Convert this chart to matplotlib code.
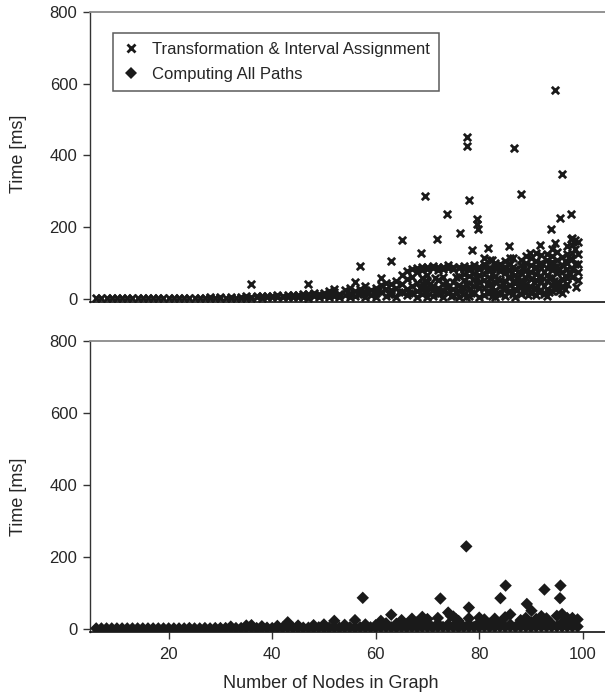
import matplotlib
matplotlib.use("Agg")
import matplotlib.pyplot as plt
from matplotlib.lines import Line2D

plt.rcParams["font.family"] = ["Liberation Sans", "DejaVu Sans"]

TEXT = "#262626"

# --- Transformation & Interval Assignment (top panel) ---
trans_low_x = [6, 7, 8, 9, 10, 11, 12, 13, 14, 15, 16, 17, 18, 19, 20, 21, 22, 23, 24, 25,
               26, 27, 28, 29, 30, 31, 32, 33, 34, 35, 36, 37, 38, 39, 40, 41, 42, 43, 44]
trans_low_y = [1, 1, 1, 1, 1, 1, 1, 1, 1, 1, 1, 1, 1, 1, 1, 2, 1, 2, 1, 2,
               2, 2, 2, 2, 2, 3, 2, 3, 3, 3, 3, 4, 3, 4, 4, 5, 4, 5, 5]
trans_low2_x = [28, 30, 32, 34, 35, 36, 37, 38, 39, 40, 41, 42, 43, 44]
trans_low2_y = [4, 5, 5, 6, 7, 6, 8, 7, 9, 8, 10, 9, 11, 10]

trans_mid_x = [44, 45, 45, 46, 46, 47, 47, 48, 48, 49, 49, 50, 50, 51, 51, 51, 52, 52, 52,
               53, 53, 54, 54, 55, 55, 55, 56, 56, 56, 57, 57, 58, 58, 58, 59, 59, 60, 60,
               60, 61, 61, 61, 62, 62, 62, 63, 63, 63, 64, 64, 64, 65, 65, 65, 66, 66, 66,
               67, 67, 67, 68, 68, 68, 68]
trans_mid_y = [8, 4, 10, 6, 12, 3, 14, 8, 15, 5, 12, 9, 16, 4, 22, 12, 28, 8, 18,
               6, 14, 10, 24, 5, 16, 30, 8, 47, 22, 12, 28, 6, 20, 35, 10, 25, 15, 30,
               5, 20, 58, 38, 8, 28, 45, 12, 40, 25, 5, 30, 50, 18, 66, 40, 10, 55, 28,
               15, 60, 35, 5, 45, 75, 22]

# the flat band around 85 ms
trans_band_x = [66, 67, 68, 69, 69, 70, 70, 71, 71, 72, 72, 73, 73, 74, 74, 75, 75, 76, 76,
                77, 77, 78, 78, 79, 79, 80, 80, 81, 82, 83, 84]
trans_band_y = [78, 82, 85, 88, 80, 90, 84, 92, 86, 88, 80, 90, 84, 86, 93, 88, 82, 90, 85,
                84, 92, 88, 80, 86, 94, 88, 82, 90, 86, 88, 84]

trans_lowcl_x = [69, 69, 69, 69, 70, 70, 70, 70, 70, 71, 71, 71, 72, 72, 72, 73, 73, 73, 73,
                 74, 74, 75, 75, 75, 76, 76, 76, 76, 77, 77, 77, 77, 78, 78, 78, 78,
                 79, 79, 79, 79, 80, 80, 80, 80]
trans_lowcl_y = [12, 26, 43, 57, 4, 19, 33, 47, 66, 9, 24, 37, 13, 29, 52, 6, 21, 41, 61,
                 16, 34, 11, 27, 46, 5, 23, 39, 63, 14, 31, 52, 69, 7, 26, 44, 64,
                 17, 36, 54, 73, 4, 29, 47, 67]
trans_lowcl2_x = [56.5, 58.5, 60.5, 62.5, 64.5, 66.5, 68.5, 69.5, 70.5, 71.5, 72.5, 73.5,
                  74.5, 75.5, 76.5, 77.5, 78.5, 79.5, 69.5, 71.5, 73.5, 75.5, 77.5, 79.5]
trans_lowcl2_y = [14, 18, 22, 12, 20, 16, 30, 18, 40, 15, 22, 33, 8, 19, 30, 6, 17, 38,
                  50, 58, 48, 60, 42, 58]

trans_cloud_x = [81, 81, 81, 81, 81, 81,
                 82, 82, 82, 82, 82,
                 83, 83, 83, 83, 83, 83,
                 84, 84, 84, 84, 84,
                 85, 85, 85, 85, 85, 85,
                 86, 86, 86, 86, 86, 86,
                 87, 87, 87, 87, 87,
                 88, 88, 88, 88, 88, 88,
                 89, 89, 89, 89, 89, 89,
                 90, 90, 90, 90, 90, 90,
                 91, 91, 91, 91, 91, 91, 91,
                 92, 92, 92, 92, 92, 92,
                 93, 93, 93, 93, 93, 93, 93,
                 94, 94, 94, 94, 94, 94, 94,
                 95, 95, 95, 95, 95, 95,
                 96, 96, 96, 96, 96, 96,
                 97, 97, 97, 97, 97, 97,
                 98, 98, 98, 98, 98, 98,
                 99, 99, 99, 99, 99]
trans_cloud_y = [11, 29, 52, 68, 97, 114,
                 18, 41, 58, 79, 109,
                 6, 24, 47, 63, 86, 101,
                 14, 36, 53, 77, 96,
                 9, 31, 49, 72, 88, 104,
                 21, 38, 61, 79, 98, 113,
                 4, 26, 44, 66, 84,
                 13, 33, 51, 73, 93, 108,
                 19, 42, 58, 81, 99, 118,
                 17, 34, 56, 74, 94, 114,
                 11, 29, 52, 69, 89, 106, 127,
                 24, 46, 63, 86, 101, 121,
                 8, 27, 49, 67, 87, 109, 124,
                 21, 39, 61, 79, 102, 119, 139,
                 31, 48, 71, 92, 108, 131,
                 16, 36, 54, 76, 94, 116,
                 41, 59, 82, 99, 124, 148,
                 62, 84, 111, 128, 151, 169,
                 51, 76, 98, 126, 158]
# second layer of the dense cloud, between the first one
trans_cloud2_x = [81.5, 81.5, 81.5, 82.5, 82.5, 82.5, 83.5, 83.5, 83.5, 84.5, 84.5, 84.5,
                  85.5, 85.5, 85.5, 86.5, 86.5, 86.5, 87.5, 87.5, 87.5, 88.5, 88.5, 88.5,
                  89.5, 89.5, 89.5, 90.5, 90.5, 90.5, 91.5, 91.5, 91.5, 92.5, 92.5, 92.5,
                  93.5, 93.5, 93.5, 94.5, 94.5, 94.5, 95.5, 95.5, 95.5, 96.5, 96.5, 96.5,
                  97.5, 97.5, 98.5, 98.5]
trans_cloud2_y = [20, 42, 84, 8, 33, 68, 16, 56, 92, 26, 44, 86, 20, 61, 80, 12, 50, 90,
                  35, 57, 76, 24, 44, 83, 10, 31, 70, 26, 47, 86, 20, 60, 98, 14, 37, 76,
                  18, 58, 97, 30, 50, 90, 22, 41, 80, 26, 64, 106, 70, 112, 96, 140]

trans_out_x = [36, 47, 57, 63, 65, 68.7, 69.5, 71.9, 73.8, 76.3, 77.7, 77.7, 78.1, 79.5,
               79.6, 79.8, 78.6, 81.7, 82.4, 85.7, 86.5, 86.8, 88.0, 89.8, 91.7, 93.8,
               94.7, 94.6, 95.9, 95.7, 97.7, 97.7, 98.6, 98.7]
trans_out_y = [42, 42, 92, 106, 165, 129, 287, 166, 236, 184, 451, 427, 276, 222,
               208, 194, 137, 143, 109, 148, 113, 422, 291, 128, 150, 195,
               583, 155, 348, 226, 237, 168, 165, 32]

# --- Computing All Paths (bottom panel) ---
paths_low_x = [6, 7, 8, 9, 10, 11, 12, 13, 14, 15, 16, 17, 18, 19, 20, 21, 22, 23, 24, 25,
               26, 27, 28, 29, 30, 31, 32, 33, 34, 35, 36, 37, 38, 39, 40, 41, 42, 43, 44,
               45, 46, 47, 48, 49, 50, 51, 52, 53, 54, 55, 56, 57, 58, 59, 60, 61, 62, 63,
               64, 65, 66, 67, 68, 69, 70, 71, 72, 73, 74, 75, 76, 77, 78, 79, 80, 81, 82,
               83, 84, 85, 86, 87, 88, 89, 90, 91, 92, 93, 94, 95, 96, 97, 98, 99]
paths_low_y = [1, 1, 1, 1, 1, 1, 1, 1, 1, 1, 1, 1, 1, 1, 1, 1, 1, 1, 2, 1,
               1, 2, 1, 2, 2, 2, 2, 2, 2, 3, 3, 2, 2, 3, 2, 3, 3, 4, 3,
               3, 3, 3, 3, 4, 3, 3, 4, 3, 4, 4, 3, 4, 4, 4, 4, 4, 5, 4,
               4, 5, 4, 5, 4, 5, 5, 4, 5, 5, 5, 5, 4, 5, 5, 5, 5, 6, 5,
               5, 6, 5, 6, 5, 6, 6, 5, 6, 6, 6, 6, 6, 6, 6, 6, 6]
paths_row2_x = [32, 35, 36, 38, 41, 43, 45, 48, 50, 52, 54, 56, 58, 60, 62, 64, 66, 68,
                70, 72, 74, 76, 78, 80, 82, 84, 86, 88, 90, 92, 94, 96, 98]
paths_row2_y = [6, 9, 10, 7, 8, 18, 9, 10, 12, 22, 11, 24, 12, 10, 15, 14, 12, 18,
                16, 14, 12, 15, 13, 17, 14, 16, 12, 15, 18, 16, 14, 17, 15]
paths_row3_x = [61, 63, 65, 67, 69, 70, 72, 74, 75, 76, 78, 80, 81, 83, 85, 86, 88, 89,
                91, 92, 93, 95, 96, 97, 98, 99]
paths_row3_y = [22, 39, 24, 28, 33, 27, 30, 45, 34, 22, 29, 31, 26, 28, 32, 40, 24, 30,
                27, 35, 29, 36, 41, 30, 30, 26]
paths_out_x = [57.5, 72.5, 77.5, 78, 74.5, 75.5, 84.1, 85.1, 89.2, 90.1, 92.6, 95.7, 95.6]
paths_out_y = [86, 84, 229, 59, 36, 27, 85, 120, 69, 50, 109, 120, 85]

trans_x = (trans_low_x + trans_low2_x + trans_mid_x + trans_band_x + trans_lowcl_x
           + trans_lowcl2_x + trans_cloud_x + trans_cloud2_x + trans_out_x)
trans_y = (trans_low_y + trans_low2_y + trans_mid_y + trans_band_y + trans_lowcl_y
           + trans_lowcl2_y + trans_cloud_y + trans_cloud2_y + trans_out_y)
paths_x = paths_low_x + paths_row2_x + paths_row3_x + paths_out_x
paths_y = paths_low_y + paths_row2_y + paths_row3_y + paths_out_y

W, H = 605, 696
fig = plt.figure(figsize=(W / 100, H / 100), dpi=100)
ax1 = fig.add_axes([90 / W, (H - 302) / H, 515 / W, 290 / H])
ax2 = fig.add_axes([90 / W, (H - 632) / H, 515 / W, 291 / H])

ax1.scatter(trans_x, trans_y, marker="x", s=28, linewidths=2.0, color="#1a1a1a", zorder=3)
ax2.scatter(paths_x, paths_y, marker="D", s=40, color="#1a1a1a", edgecolors="none", zorder=3)

for ax in (ax1, ax2):
    ax.set_xlim(4.8, 104.3)
    ax.set_ylim(-9, 800)
    ax.set_yticks([0, 200, 400, 600, 800])
    ax.spines["right"].set_visible(False)
    ax.spines["top"].set_color("#8a8a8a")
    ax.spines["top"].set_linewidth(1.3)
    ax.spines["left"].set_color("#333333")
    ax.spines["left"].set_linewidth(1.0)
    ax.spines["bottom"].set_color("#111111")
    ax.spines["bottom"].set_linewidth(1.2)
    ax.tick_params(axis="y", direction="out", length=5, width=1, color="#333333",
                   labelsize=12, labelcolor=TEXT, pad=4)
    ax.set_ylabel("Time [ms]", fontsize=13, color=TEXT)

ax1.tick_params(axis="x", bottom=False, labelbottom=False)
ax2.set_xticks([20, 40, 60, 80, 100])
ax2.tick_params(axis="x", direction="out", length=5, width=1, color="#333333",
                labelsize=12, labelcolor=TEXT, pad=6)
ax2.set_xlabel("Number of Nodes in Graph", fontsize=13, color=TEXT)
ax2.xaxis.set_label_coords(0.468, -0.148)
ax1.yaxis.set_label_coords(-0.122, 0.51)
ax2.yaxis.set_label_coords(-0.122, 0.464)

handles = [
    Line2D([], [], linestyle="none", marker="x", markersize=5.2, markeredgewidth=2.0,
           color="#1a1a1a"),
    Line2D([], [], linestyle="none", marker="D", markersize=6, color="#1a1a1a",
           markeredgewidth=0),
]
leg = ax1.legend(handles, ["Transformation & Interval Assignment", "Computing All Paths"],
                 loc="upper left", bbox_to_anchor=(0.045, 0.928), borderaxespad=0,
                 fontsize=12, frameon=True, fancybox=False, handlelength=1.0,
                 handletextpad=0.75, labelspacing=0.6, borderpad=0.55)
leg.get_frame().set_edgecolor("#333333")
leg.get_frame().set_linewidth(1.1)
for t in leg.get_texts():
    t.set_color(TEXT)

fig.savefig("out.png", dpi=100)
